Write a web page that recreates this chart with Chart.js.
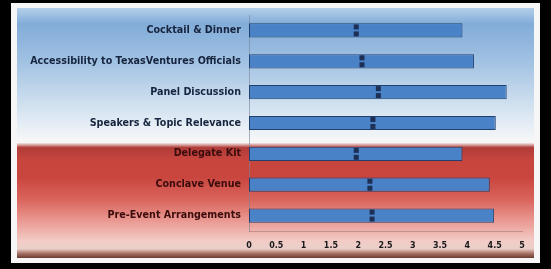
<!DOCTYPE html>
<html>
<head>
<meta charset="utf-8">
<script src="https://cdn.jsdelivr.net/npm/chart.js@4/dist/chart.umd.min.js"></script>
<style>
  html, body { margin: 0; padding: 0; background: #000; }
  #wrap { width: 551px; height: 269px; }
</style>
</head>
<body>
<div id="wrap"><canvas id="rating"></canvas></div>
<script>
const categories = ['Cocktail & Dinner', 'Accessibility to TexasVentures Officials', 'Panel Discussion',
  'Speakers & Topic Relevance', 'Delegate Kit', 'Conclave Venue', 'Pre-Event Arrangements'];
const scores = [3.91, 4.12, 4.72, 4.52, 3.91, 4.41, 4.49];
const tickLabels = ['0', '0.5', '1', '1.5', '2', '2.5', '3', '3.5', '4', '4.5', '5'];

// panel backdrop: black frame, white border, blue top half, red bottom half
const backdrop = {
  id: 'backdrop',
  beforeDraw(chart) {
    const c = chart.ctx;
    c.save();
    c.fillStyle = '#000';
    c.fillRect(0, 0, 551, 269);
    c.fillStyle = '#f6f6f6';
    c.fillRect(11, 3, 529, 260);

    let g = c.createLinearGradient(0, 8, 0, 139);
    g.addColorStop(0, '#b4d0ea');
    g.addColorStop(0.12, '#82acd8');
    g.addColorStop(0.4, '#a0c1e2');
    g.addColorStop(0.8, '#d9e6f2');
    g.addColorStop(1, '#f4f6f8');
    c.fillStyle = g;
    c.fillRect(17, 8, 517, 131);

    g = c.createLinearGradient(0, 143, 0, 258);
    g.addColorStop(0, '#f2e8e6');
    g.addColorStop(0.04, '#b03c38');
    g.addColorStop(0.15, '#c8453e');
    g.addColorStop(0.3, '#c9463f');
    g.addColorStop(0.5, '#da665e');
    g.addColorStop(0.7, '#eba099');
    g.addColorStop(0.85, '#f3cbc6');
    g.addColorStop(0.92, '#ead0ca');
    g.addColorStop(0.96, '#a87266');
    g.addColorStop(1, '#6a3a30');
    c.fillStyle = g;
    c.fillRect(17, 143, 517, 115);
    c.restore();
  },
  afterDatasetsDraw(chart) {
    // small dark marks sitting at the middle of each bar
    const c = chart.ctx;
    c.save();
    c.fillStyle = '#1c2f55';
    chart.getDatasetMeta(0).data.forEach(bar => {
      const mx = (bar.base + bar.x) / 2;
      c.fillRect(mx - 2, bar.y - 6, 5, 5);
      c.fillRect(mx - 2, bar.y + 1, 5, 5);
    });
    c.restore();
  }
};

new Chart(document.getElementById('rating'), {
  type: 'bar',
  data: {
    labels: categories,
    datasets: [{
      data: scores,
      backgroundColor: '#4a82c8',
      borderColor: '#22406f',
      borderWidth: 1,
      borderSkipped: false,
      categoryPercentage: 1,
      barPercentage: 0.46
    }]
  },
  options: {
    indexAxis: 'y',
    responsive: true,
    maintainAspectRatio: false,
    animation: false,
    layout: { padding: { top: 15, right: 29, bottom: 0, left: 0 } },
    plugins: { legend: { display: false }, tooltip: { enabled: false } },
    scales: {
      x: {
        min: 0, max: 5,
        afterFit: s => { s.height = 38; },
        grid: { display: false, drawTicks: false },
        border: { display: true, color: 'rgba(150,110,110,0.5)', width: 1 },
        ticks: {
          stepSize: 0.5,
          padding: 10,
          color: '#1a1a1a',
          font: { family: 'DejaVu Sans', size: 8, weight: 'bold' },
          callback: (v, i) => tickLabels[i]
        }
      },
      y: {
        afterFit: s => { s.width = 249; },
        grid: { display: false, drawTicks: false },
        border: { display: true, color: 'rgba(120,130,150,0.6)', width: 1 },
        ticks: {
          padding: 8,
          color: ctx => ctx.index < 4 ? '#16243e' : '#3a0c0c',
          font: { family: 'DejaVu Sans', size: 9.6, weight: 'bold' }
        }
      }
    }
  },
  plugins: [backdrop]
});
</script>
</body>
</html>
